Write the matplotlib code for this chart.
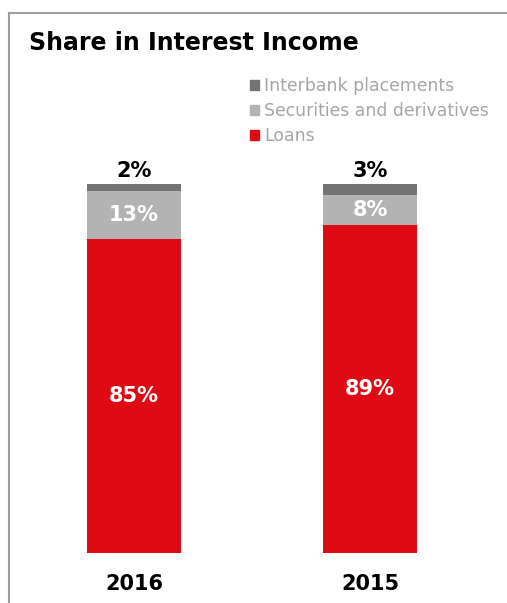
import numpy as np
import matplotlib.pyplot as plt
from matplotlib.lines import Line2D
from matplotlib.patches import Patch

years = ['2016', '2015']
loans = [85, 89]
securities = [13, 8]
interbank = [2, 3]

RED = '#de0a14'
LIGHT = '#b3b3b3'
DARK = '#737373'

W, H = 507, 603
fig = plt.figure(figsize=(W / 100, H / 100), dpi=100)

# plot area in pixel terms: bars sit on y=553, 100% reaches y=184
ax = fig.add_axes([0, (H - 553) / H, 1, 369 / H])
x = np.arange(len(years))
px = 236.0
ax.set_xlim(-134 / px, (W - 134) / px)
ax.set_ylim(0, 100)

bw = 94 / px
ax.bar(x, loans, bw, color=RED, label='Loans')
ax.bar(x, securities, bw, bottom=loans, color=LIGHT, label='Securities and derivatives')
tops = np.array(loans) + np.array(securities)
ax.bar(x, interbank, bw, bottom=tops, color=DARK, label='Interbank placements')

for i in x:
    ax.text(i, loans[i] / 2, f'{loans[i]}%', ha='center', va='center',
            color='white', fontsize=15, fontweight='bold')
    ax.text(i, loans[i] + securities[i] / 2, f'{securities[i]}%', ha='center', va='center',
            color='white', fontsize=15, fontweight='bold')
    ax.text(i, 100 + 0.8, f'{interbank[i]}%', ha='center', va='bottom',
            color='black', fontsize=15, fontweight='bold', clip_on=False)

ax.set_xticks(x)
ax.set_xticklabels(years, fontsize=15, fontweight='bold')
ax.tick_params(axis='x', length=0, pad=15)
ax.set_yticks([])
for s in ax.spines.values():
    s.set_visible(False)
ax.patch.set_alpha(0)

# outer frame (left and top edges)
frame = '#a0a0a0'
fig.add_artist(Line2D([9 / W, 9 / W], [0, 1 - 13 / H], transform=fig.transFigure,
                      color=frame, lw=1.5))
fig.add_artist(Line2D([9 / W, 1], [1 - 13 / H, 1 - 13 / H], transform=fig.transFigure,
                      color=frame, lw=1.5))

fig.text(29 / W, 1 - 43 / H, 'Share in Interest Income', fontsize=17,
         fontweight='bold', va='center', ha='left')

handles = [Patch(color=DARK), Patch(color=LIGHT), Patch(color=RED)]
labels = ['Interbank placements', 'Securities and derivatives', 'Loans']
fig.legend(handles, labels, loc='upper left', bbox_to_anchor=(250 / W, 1 - 77 / H),
           frameon=False, fontsize=12.4, labelcolor='#a6a6a6', handlelength=0.5,
           handleheight=0.5, handletextpad=0.3, labelspacing=0.4, borderpad=0,
           borderaxespad=0)

fig.savefig('out.png', dpi=100)
